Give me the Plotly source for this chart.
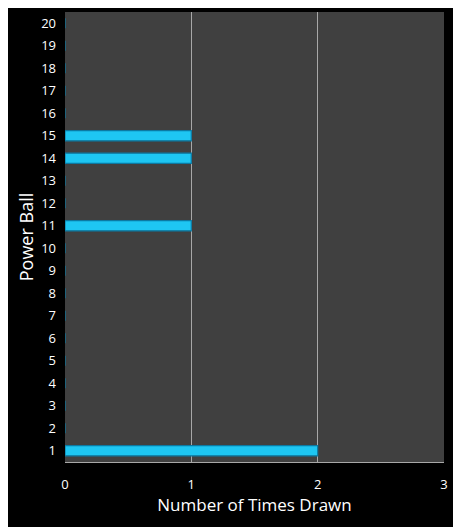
import plotly.graph_objects as go

balls = list(range(1, 21))
times_drawn = [2, 0, 0, 0, 0, 0, 0, 0, 0, 0, 1, 0, 0, 1, 1, 0, 0, 0, 0, 0]

fig = go.Figure(go.Bar(
    x=times_drawn, y=balls, orientation='h',
    width=0.45,
    marker=dict(color='#1ec6f2', line=dict(color='#0b7aa3', width=1.2)),
))

# page body has an 8px margin, so the figure is shrunk and shifted to fit
fig.update_layout(
    width=453, height=519,
    margin=dict(l=57, r=17, t=4, b=65),
    paper_bgcolor='black',
    plot_bgcolor='#404040',
    font=dict(family='Open Sans, DejaVu Sans', color='white', size=13),
    showlegend=False,
    xaxis=dict(
        range=[0, 3], dtick=1, tick0=0,
        showgrid=True, gridcolor='#a8a8a8', gridwidth=1,
        showline=True, linecolor='#a8a8a8', linewidth=1,
        zeroline=False, ticks='', ticklabelstandoff=10,
        title=dict(text='Number of Times Drawn', font=dict(size=17), standoff=6),
    ),
    yaxis=dict(
        range=[0.5, 20.5], dtick=1, tick0=1,
        showgrid=False, zeroline=False, ticks='', ticklabelstandoff=8,
        title=dict(text='Power Ball', font=dict(size=18), standoff=2),
    ),
)

fig.write_html("out.html")
